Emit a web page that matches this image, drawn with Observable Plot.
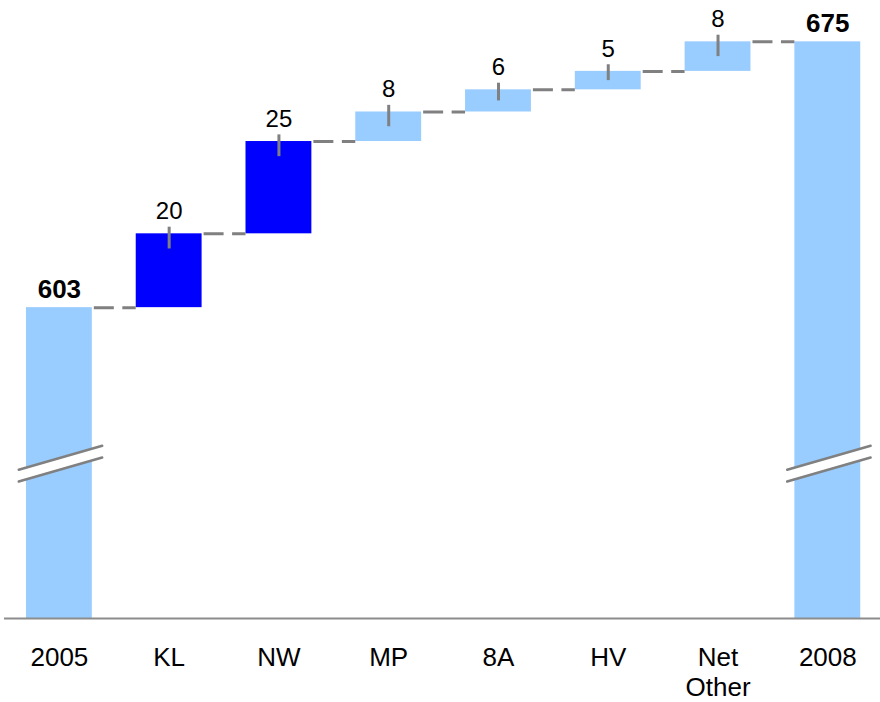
<!DOCTYPE html>
<html>
<head>
<meta charset="utf-8">
<script src="https://cdn.jsdelivr.net/npm/d3@7"></script>
<script src="https://cdn.jsdelivr.net/npm/@observablehq/plot@0.6"></script>
<style>
  html, body { margin: 0; padding: 0; background: #fff; }
  #chart svg { display: block; }
</style>
</head>
<body>
<div id="chart"></div>
<script>
// Waterfall: 2005 total, the contributions, 2008 total
const categories = ["2005", "KL", "NW", "MP", "8A", "HV", "Net\nOther", "2008"];
const startTotal = 603;
const endTotal = 675;
const increments = [20, 25, 8, 6, 5, 8];
const incrementKinds = ["major", "major", "minor", "minor", "minor", "minor"];

// Visible window of the (broken) value axis
const yBase = 518.8;
const yTop = 686.2;

const lightBlue = "#99ccff";
const darkBlue = "#0000ff";
const gray = "#808080";
const halfBar = 0.3;

// Build the step table from the named arrays
const totals = [
  {i: 0, value: startTotal},
  {i: categories.length - 1, value: endTotal}
];
let running = startTotal;
const steps = increments.map((v, k) => {
  const start = running;
  running += v;
  return {i: k + 1, value: v, start, end: running, kind: incrementKinds[k]};
});

// Dashed connectors between consecutive bars at the running level
const levels = [startTotal, ...steps.map(d => d.end)];
const connectors = levels.map((level, k) => ({from: k, to: k + 1, level}));

// Axis-break parallelograms across both total bars
const breakPoints = [];
for (const t of totals) {
  breakPoints.push({bar: t.i, x: t.i - 0.37, lo: 555.9, hi: 559.1});
  breakPoints.push({bar: t.i, x: t.i + 0.39, lo: 562.4, hi: 565.6});
}

const font = "'Liberation Sans', Arial, Helvetica, sans-serif";

const chart = Plot.plot({
  width: 880,
  height: 702,
  marginTop: 0,
  marginBottom: 84,
  marginLeft: 4,
  marginRight: 0,
  style: {fontFamily: font, fontSize: "26px", background: "#fff", color: "#000", overflow: "visible"},
  x: {domain: [-0.5, 7.48], axis: null},
  y: {domain: [yBase, yTop], axis: null},
  marks: [
    // total bars
    Plot.rect(totals, {
      x1: d => d.i - halfBar, x2: d => d.i + halfBar,
      y1: yBase, y2: "value", fill: lightBlue
    }),
    // increment bars
    Plot.rect(steps, {
      x1: d => d.i - halfBar, x2: d => d.i + halfBar,
      y1: "start", y2: "end",
      fill: d => d.kind === "major" ? darkBlue : lightBlue
    }),
    // break marks
    Plot.areaY(breakPoints, {x: "x", y1: "lo", y2: "hi", z: "bar", fill: "#fff"}),
    Plot.line(breakPoints, {x: "x", y: "lo", z: "bar", stroke: gray, strokeWidth: 2.5}),
    Plot.line(breakPoints, {x: "x", y: "hi", z: "bar", stroke: gray, strokeWidth: 2.5}),
    // connectors
    Plot.ruleY(connectors, {
      y: "level",
      x1: d => d.from + halfBar, x2: d => d.to - halfBar,
      stroke: gray, strokeWidth: 3,
      strokeDasharray: "20,8.5", strokeDashoffset: 26.5
    }),
    // value ticks on the increment bars
    Plot.ruleX(steps, {
      x: "i",
      y1: d => d.end + 1.8,
      y2: d => d.end - Math.min(d.value / 2, 4.1),
      stroke: gray, strokeWidth: 3
    }),
    // increment labels
    Plot.text(steps, {
      x: "i", y: "end", text: d => String(d.value),
      dy: -14.5, lineAnchor: "bottom", fontSize: 24, fill: "#000"
    }),
    // total labels
    Plot.text(totals, {
      x: "i", y: "value", text: d => String(d.value),
      dy: -10, lineAnchor: "bottom", fontSize: 26, fontWeight: "bold", fill: "#000"
    }),
    // baseline
    Plot.ruleY([yBase], {stroke: "#8c8c8c", strokeWidth: 2}),
    // category axis
    Plot.axisX({
      ticks: d3.range(categories.length),
      tickFormat: i => categories[i],
      tickSize: 0,
      tickPadding: 26,
      fontSize: 26,
      lineHeight: 1.15,
      fill: "#000"
    })
  ]
});

document.getElementById("chart").appendChild(chart);
</script>
</body>
</html>
